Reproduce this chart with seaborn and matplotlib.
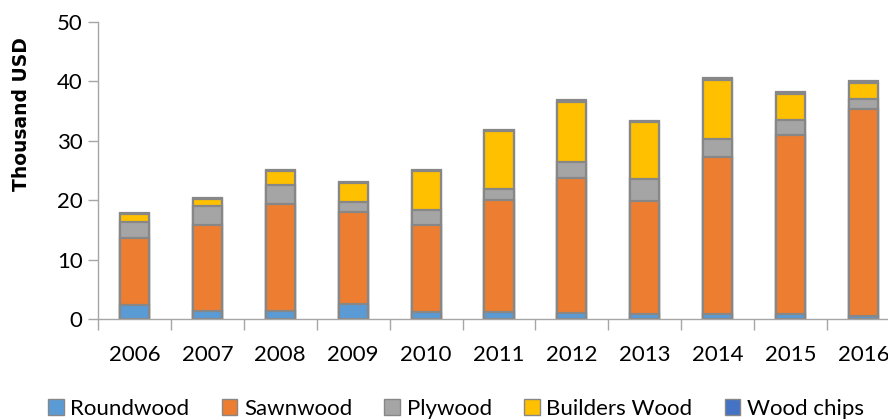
import matplotlib
matplotlib.use("Agg")
import matplotlib.pyplot as plt
from matplotlib.patches import Patch
import numpy as np
import pandas as pd
import seaborn as sns

years = ["2006", "2007", "2008", "2009", "2010", "2011",
         "2012", "2013", "2014", "2015", "2016"]
roundwood = [2.35, 1.3, 1.3, 2.55, 1.1, 1.25, 1.05, 0.9, 0.9, 0.8, 0.55]
sawnwood = [11.3, 14.55, 18.1, 15.45, 14.75, 18.8, 22.65, 18.9, 26.3, 30.1, 34.8]
plywood = [2.7, 3.25, 3.2, 1.7, 2.55, 1.9, 2.7, 3.8, 3.1, 2.6, 1.65]
builders_wood = [1.35, 1.1, 2.4, 3.2, 6.6, 9.75, 10.2, 9.6, 9.9, 4.3, 2.8]
wood_chips = [0.1, 0.1, 0.1, 0.2, 0.1, 0.2, 0.25, 0.2, 0.4, 0.35, 0.3]

series = ["Roundwood", "Sawnwood", "Plywood", "Builders Wood", "Wood chips"]
colors = ["#5B9BD5", "#ED7D31", "#A5A5A5", "#FFC000", "#4472C4"]

df = pd.DataFrame({
    "year": years,
    "Roundwood": roundwood,
    "Sawnwood": sawnwood,
    "Plywood": plywood,
    "Builders Wood": builders_wood,
    "Wood chips": wood_chips,
})
cum = df[series].cumsum(axis=1)

sns.set_style("white")
plt.rcParams["font.family"] = ["Lato", "DejaVu Sans"]

fig = plt.figure(figsize=(8.88, 4.19), dpi=100)
ax = fig.add_axes([98 / 888, 100 / 419, 802 / 888, 297 / 419])

edge = "#878787"
# stacked bars: draw cumulative totals from the top layer down
for name, col in reversed(list(zip(series, colors))):
    sns.barplot(x=df["year"], y=cum[name], color=col, edgecolor=edge,
                linewidth=1.6, width=0.4, saturation=1, ax=ax)

ax.set_xlim(-0.5, len(years) - 0.5)
ax.set_ylim(0, 50)
ax.set_yticks(np.arange(0, 51, 10))
ax.set_xlabel("")
ax.set_ylabel("Thousand USD", fontsize=13.5, fontweight="bold", color="black",
              family=["DejaVu Sans"])
ax.yaxis.set_label_coords(-0.084, 0.69)

axis_col = "#A6A6A6"
for s in ["top", "right"]:
    ax.spines[s].set_visible(False)
for s in ["left", "bottom"]:
    ax.spines[s].set_color(axis_col)
    ax.spines[s].set_linewidth(1.0)

ax.tick_params(axis="y", length=7, width=1, color=axis_col, pad=4,
               labelsize=16, labelcolor="black", left=True)
ax.tick_params(axis="x", which="major", length=0, pad=19, labelsize=16,
               labelcolor="black")
ax.set_xticks(np.arange(-0.5, len(years), 1.0), minor=True)
ax.tick_params(axis="x", which="minor", length=8, width=1, color=axis_col,
               bottom=True)

handles = [Patch(facecolor=c, edgecolor=edge, linewidth=1.0, label=n)
           for n, c in zip(series, colors)]
fig.legend(handles=handles, loc="center", bbox_to_anchor=(456 / 888, 1 - 409 / 419),
           ncol=5, frameon=False, fontsize=16, handlelength=0.7,
           handleheight=0.7, handletextpad=0.3, columnspacing=1.45,
           labelcolor="black")

fig.savefig("out.png", dpi=100)
